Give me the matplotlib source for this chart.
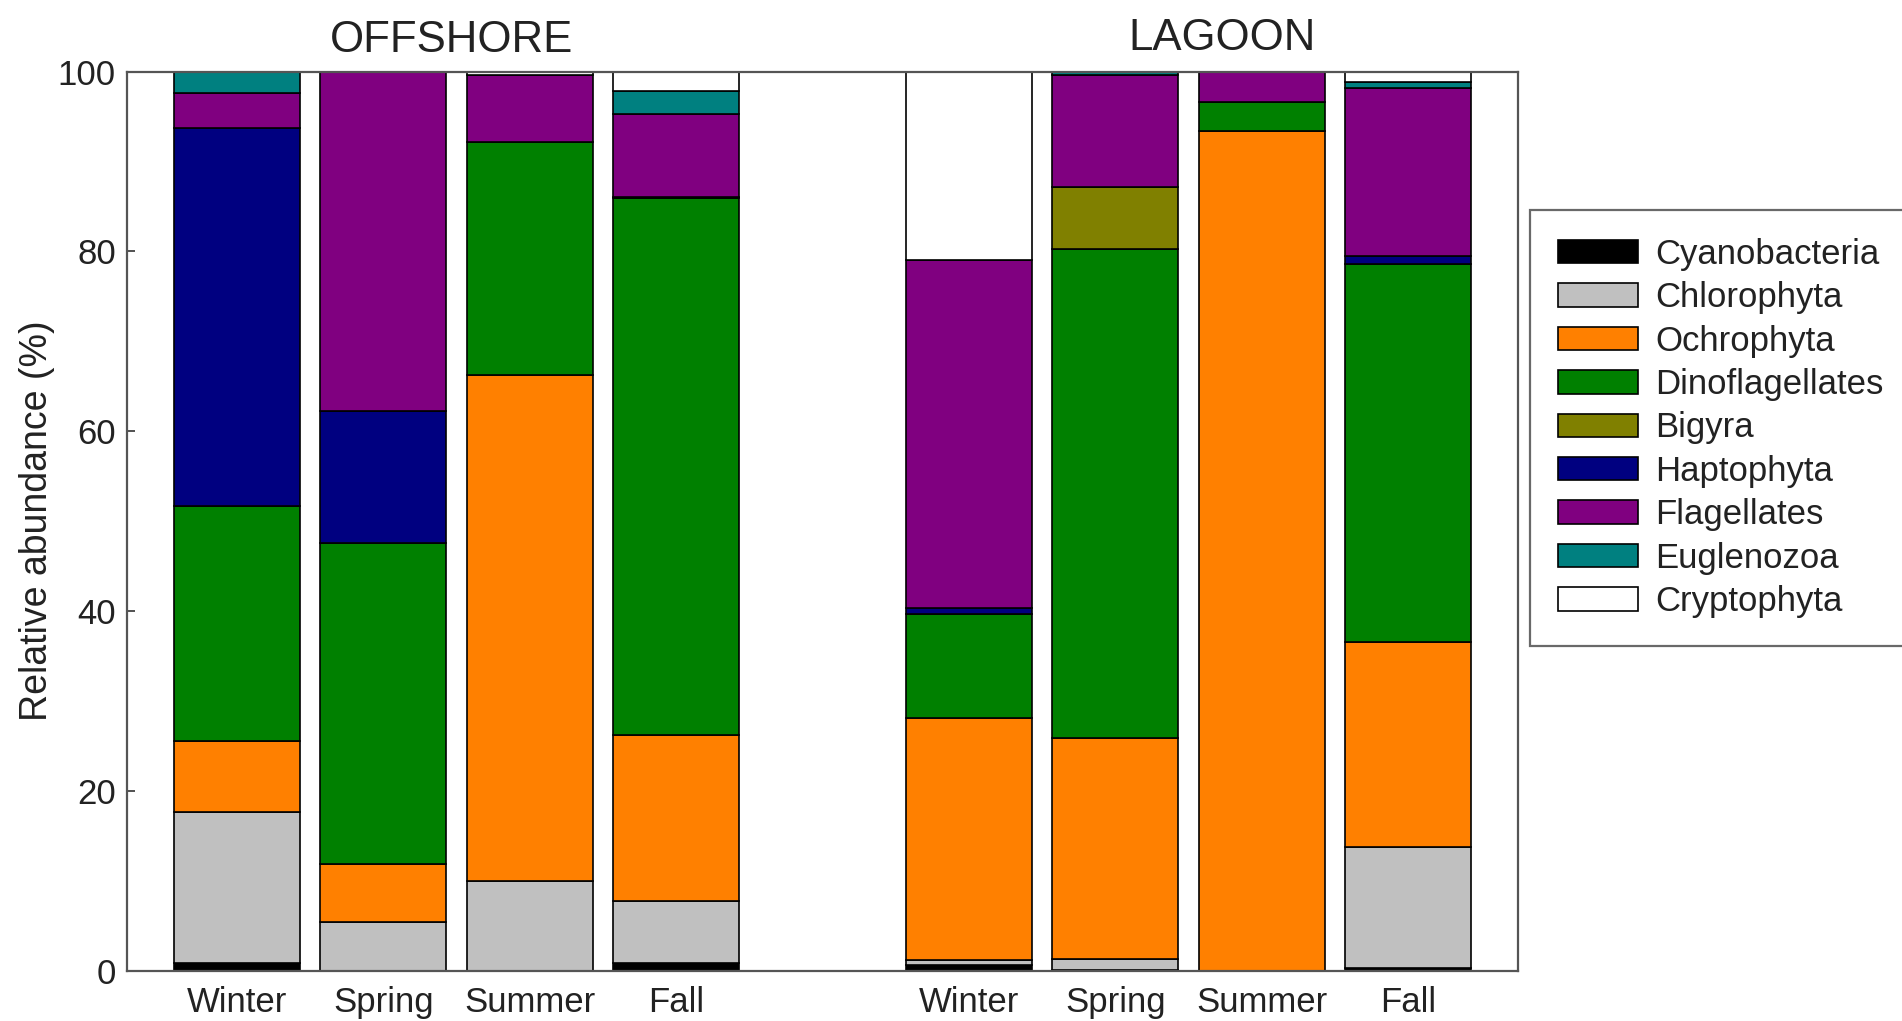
import numpy as np
import matplotlib
matplotlib.use("Agg")
import matplotlib.pyplot as plt

plt.rcParams['font.family'] = ['Liberation Sans', 'DejaVu Sans']

seasons = ['Winter', 'Spring', 'Summer', 'Fall']
groups = ['Cyanobacteria', 'Chlorophyta', 'Ochrophyta', 'Dinoflagellates', 'Bigyra',
          'Haptophyta', 'Flagellates', 'Euglenozoa', 'Cryptophyta']
colors = ['#000000', '#C0C0C0', '#FF8000', '#008000', '#808000',
          '#000080', '#800080', '#008080', '#FFFFFF']

# relative abundance (%) per group, order: Winter, Spring, Summer, Fall
offshore = {
    'Cyanobacteria':   [0.8, 0.0, 0.0, 0.8],
    'Chlorophyta':     [16.8, 5.4, 10.0, 7.0],
    'Ochrophyta':      [7.9, 6.5, 56.3, 18.4],
    'Dinoflagellates': [26.2, 35.7, 25.9, 59.7],
    'Bigyra':          [0.0, 0.0, 0.0, 0.0],
    'Haptophyta':      [42.0, 14.6, 0.0, 0.2],
    'Flagellates':     [3.9, 37.8, 7.4, 9.2],
    'Euglenozoa':      [2.4, 0.0, 0.0, 2.5],
    'Cryptophyta':     [0.0, 0.0, 0.4, 2.3],
}
lagoon = {
    'Cyanobacteria':   [0.6, 0.1, 0.0, 0.3],
    'Chlorophyta':     [0.6, 1.2, 0.0, 13.5],
    'Ochrophyta':      [26.9, 24.6, 93.4, 22.8],
    'Dinoflagellates': [11.6, 54.4, 3.2, 42.0],
    'Bigyra':          [0.0, 6.9, 0.0, 0.0],
    'Haptophyta':      [0.6, 0.0, 0.0, 0.9],
    'Flagellates':     [38.7, 12.4, 3.4, 18.7],
    'Euglenozoa':      [0.0, 0.4, 0.0, 0.6],
    'Cryptophyta':     [21.0, 0.0, 0.0, 1.2],
}

fig = plt.figure(figsize=(19.02, 10.21), dpi=100)
ax = fig.add_axes([0.0668, 0.0493, 0.7313, 0.8805])

x_off = np.arange(4)
x_lag = np.arange(4) + 5
width = 0.86

for data, xs in [(offshore, x_off), (lagoon, x_lag)]:
    bottom = np.zeros(4)
    for g, c in zip(groups, colors):
        vals = np.array(data[g])
        ax.bar(xs, vals, width, bottom=bottom, color=c, edgecolor='black',
               linewidth=1.2, label=g if xs is x_off else None)
        bottom += vals

ax.set_xlim(-0.75, 8.75)
ax.set_ylim(0, 100)
ax.set_yticks([0, 20, 40, 60, 80, 100])
ax.set_xticks(np.concatenate([x_off, x_lag]))
ax.set_xticklabels(seasons + seasons)
ax.tick_params(axis='x', length=0, pad=11, labelsize=25, colors='#222222')
ax.tick_params(axis='y', direction='in', length=6, width=1.2, pad=8,
               labelsize=25, colors='#333333', labelcolor='#222222')
for s in ax.spines.values():
    s.set_linewidth(1.6)
    s.set_color('#555555')
ax.set_ylabel('Relative abundance (%)', fontsize=27, color='#222222')
ax.yaxis.set_label_coords(-0.052, 0.5)

fig.text(452 / 1902, 1 - 40 / 1021, 'OFFSHORE', fontsize=31.5, ha='center',
         va='center', color='#222222')
fig.text(1222 / 1902, 1 - 38 / 1021, 'LAGOON', fontsize=31.5, ha='center',
         va='center', color='#222222')

leg = fig.legend(loc='upper left', bbox_to_anchor=(1530 / 1902, 1 - 210 / 1021),
                 fontsize=25, frameon=True, fancybox=False, handlelength=2.3,
                 handleheight=0.66, labelspacing=0.3, handletextpad=0.5,
                 borderpad=0.8, borderaxespad=0)
leg.get_frame().set_edgecolor('#444444')
leg.get_frame().set_linewidth(1.6)
for t in leg.get_texts():
    t.set_color('#222222')

fig.savefig('out.png', dpi=100)
